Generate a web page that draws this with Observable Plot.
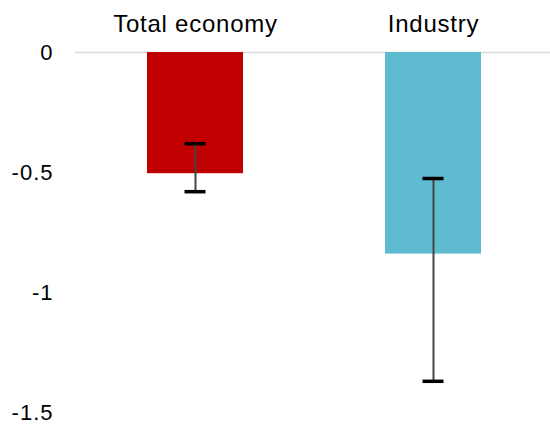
<!DOCTYPE html>
<html>
<head>
<meta charset="utf-8">
<script src="https://cdn.jsdelivr.net/npm/d3@7"></script>
<script src="https://cdn.jsdelivr.net/npm/@observablehq/plot@0.6"></script>
<style>
  html, body { margin: 0; padding: 0; background: #fff; }
  #chart svg { display: block; }
  .cat text { letter-spacing: 0.75px; }
  .yax text { letter-spacing: 1px; }
</style>
</head>
<body>
<div id="chart"></div>
<script>
const categories = ["Total economy", "Industry"];
const values = [-0.505, -0.84];
const errLow = [-0.58, -1.37];
const errHigh = [-0.38, -0.525];
const colors = ["#c00000", "#5fbbcf"];
const yTicks = [0, -0.5, -1, -1.5];

const data = categories.map((c, i) => ({
  category: c, value: values[i], lo: errLow[i], hi: errHigh[i]
}));

const chart = Plot.plot({
  width: 550,
  height: 428,
  marginTop: 52,
  marginBottom: 16,
  marginLeft: 75,
  marginRight: 0,
  style: { fontFamily: "'Liberation Sans', Arial, sans-serif", color: "#000", background: "#fff" },
  x: { domain: categories, range: [75, 553], paddingInner: 0.597, paddingOuter: 0.3025, axis: null },
  y: { domain: [-1.5, 0], axis: null },
  color: { domain: categories, range: colors },
  marks: [
    Plot.ruleY([0], { stroke: "#d9d9d9", strokeWidth: 1.5 }),
    Plot.barY(data, { x: "category", y1: 0, y2: "value", fill: "category" }),
    Plot.ruleX(data, { x: "category", y1: "lo", y2: "hi", stroke: "#444", strokeWidth: 2 }),
    Plot.tickY(data, { x: "category", y: "lo", stroke: "#000", strokeWidth: 3.5, insetLeft: 37.5, insetRight: 37.5 }),
    Plot.tickY(data, { x: "category", y: "hi", stroke: "#000", strokeWidth: 3.5, insetLeft: 37.5, insetRight: 37.5 }),
    Plot.axisY({ ticks: yTicks, tickSize: 0, tickPadding: 22, fontSize: 22, tickFormat: d => String(d), fill: "#000", className: "yax" }),
    Plot.text(categories, { x: d => d, frameAnchor: "top", dy: -38, fontSize: 24, fill: "#000", text: d => d, className: "cat" })
  ]
});
document.getElementById("chart").appendChild(chart);
</script>
</body>
</html>
